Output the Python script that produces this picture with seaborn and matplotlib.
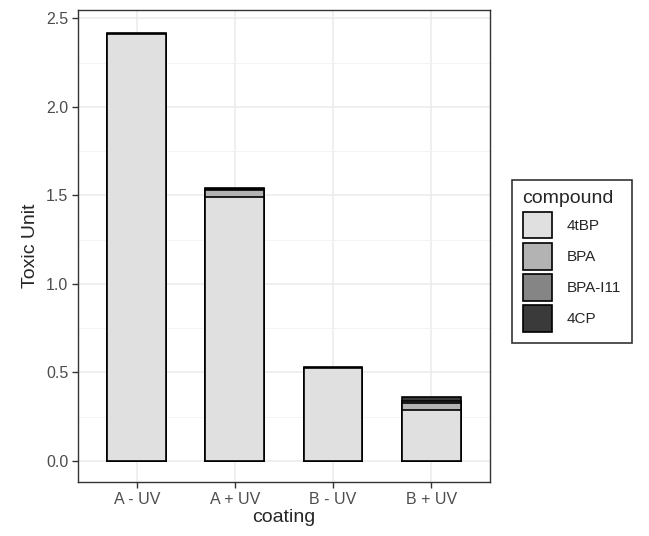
import matplotlib
matplotlib.use('Agg')
import matplotlib.pyplot as plt
import matplotlib.ticker
from matplotlib.patches import Patch
import numpy as np
import pandas as pd
import seaborn as sns

coatings = ['A - UV', 'A + UV', 'B - UV', 'B + UV']
compounds = ['4tBP', 'BPA', 'BPA-I11', '4CP']
tu_4tbp = [2.41, 1.49, 0.525, 0.29]
tu_bpa = [0.0, 0.04, 0.0, 0.04]
tu_bpa_i11 = [0.0, 0.005, 0.0, 0.01]
tu_4cp = [0.01, 0.005, 0.005, 0.02]
colours = ['#e0e0e0', '#b3b3b3', '#858585', '#3a3a3a']

sns.set_theme(style='whitegrid')
plt.rcParams['font.family'] = ['Liberation Sans', 'DejaVu Sans']

df = pd.DataFrame({'coating': coatings, '4tBP': tu_4tbp, 'BPA': tu_bpa,
                   'BPA-I11': tu_bpa_i11, '4CP': tu_4cp})
long = df.melt(id_vars='coating', var_name='compound', value_name='tu')
long['compound'] = pd.Categorical(long['compound'], compounds, ordered=True)
long = long.sort_values(['coating', 'compound'])
long['top'] = long.groupby('coating')['tu'].cumsum()

fig = plt.figure(figsize=(6.49, 5.36), dpi=100)
ax = fig.add_axes([0.12, 0.10, 0.635, 0.882])

# draw the stack from the top layer down so each segment sits on the one below
for comp, col in reversed(list(zip(compounds, colours))):
    sub = long[long['compound'] == comp]
    sns.barplot(data=sub, x='coating', y='top', order=coatings, color=col,
                edgecolor='black', linewidth=1.2, width=0.6, saturation=1,
                errorbar=None, ax=ax)

ax.set_ylim(-0.121, 2.55)
ax.set_xlim(-0.6, 3.6)
ax.yaxis.set_major_locator(matplotlib.ticker.MultipleLocator(0.5))
ax.yaxis.set_minor_locator(matplotlib.ticker.MultipleLocator(0.25))
ax.yaxis.set_major_formatter(matplotlib.ticker.FormatStrFormatter('%.1f'))
ax.grid(which='major', color='#ebebeb', linewidth=1.1)
ax.grid(which='minor', axis='y', color='#f2f2f2', linewidth=0.6)
ax.set_axisbelow(True)
for s in ax.spines.values():
    s.set_color('#333333')
    s.set_linewidth(1.0)
ax.tick_params(axis='both', which='major', length=4, width=1, color='#333333',
               labelsize=11.5, labelcolor='#4d4d4d', bottom=True, left=True,
               pad=3)
ax.tick_params(axis='y', which='minor', length=0)
ax.set_xlabel('coating', fontsize=14, labelpad=1)
ax.set_ylabel('Toxic Unit', fontsize=14, labelpad=5)

handles = [Patch(facecolor=c, edgecolor='black', linewidth=1.2, label=n)
           for n, c in zip(compounds, colours)]
leg = fig.legend(handles=handles, title='compound', loc='center left',
                 bbox_to_anchor=(0.777, 0.513), frameon=True, fontsize=11,
                 title_fontsize=14, handlelength=1.9, handleheight=2.3,
                 labelspacing=0.3, borderpad=0.7, handletextpad=1.0,
                 fancybox=False)
leg.get_frame().set_edgecolor('black')
leg.get_frame().set_linewidth(1.2)
leg._legend_box.align = 'left'

fig.savefig('out.png', dpi=100)
